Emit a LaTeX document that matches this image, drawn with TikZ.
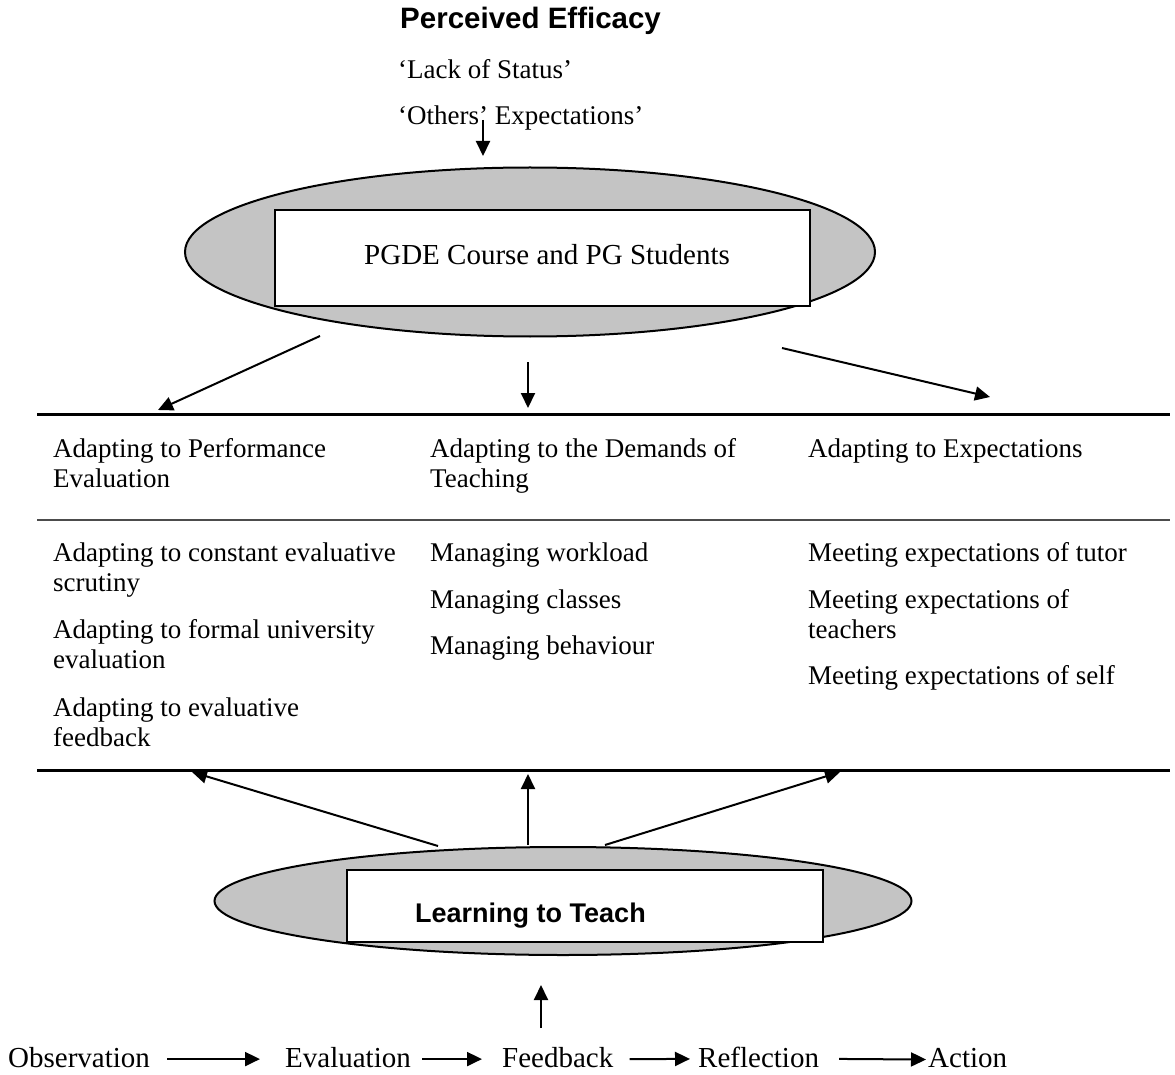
\documentclass[tikz,border=0pt]{standalone}
\usepackage{fontspec}
\setmainfont{Liberation Serif}
\newfontfamily\arialfont{Liberation Sans}
\usetikzlibrary{arrows.meta,shapes.geometric}
\definecolor{ellgray}{HTML}{C4C4C4}
\tikzset{
  txt/.style={inner sep=0pt, anchor=base west, align=left, font=\fontsize{27}{30}\selectfont},
  bigtxt/.style={inner sep=0pt, anchor=base west, font=\fontsize{29}{32}\selectfont},
  boldsans/.style={inner sep=0pt, anchor=base west, font=\arialfont\bfseries\fontsize{29.5}{32}\selectfont},
  ellbox/.style={ellipse, draw=black, line width=2pt, fill=ellgray, inner sep=0pt},
  rectbox/.style={rectangle, draw=black, line width=2pt, fill=white, inner sep=0pt},
  arr/.style={line width=2pt, -{Triangle[length=15pt,width=14pt]}},
  rule/.style={line width=3pt},
  thinrule/.style={line width=1.5pt, black!70}
}
\begin{document}
\begin{tikzpicture}[x=1pt,y=-1pt]
\useasboundingbox (0,0) rectangle (1175,1075);
% top texts
\node[boldsans] (pe) at (400,29) {Perceived Efficacy};
\node[txt] (lack) at (398,79) {‘Lack of Status’};
\node[txt] (oth) at (398,125) {‘Others’ Expectations’};
\coordinate (topa) at (483,120);
\coordinate (topb) at (483,156);
\draw[arr] (topa) -- (topb);
% ellipse 1
\node[ellbox, minimum width=690pt, minimum height=169pt] (e1) at (530,252) {};
\node[rectbox, minimum width=535pt, minimum height=96pt] (r1) at (542.5,258) {};
\node[bigtxt] (pgde) at (364,265) {PGDE Course and PG Students};
% rules
\coordinate (l1a) at (37,414); \coordinate (l1b) at (1170,414);
\coordinate (l2a) at (37,520); \coordinate (l2b) at (1170,520);
\coordinate (l3a) at (37,770); \coordinate (l3b) at (1170,770);
\draw[rule] (l1a) -- (l1b);
\draw[thinrule] (l2a) -- (l2b);
\draw[rule] (l3a) -- (l3b);
% arrows from ellipse 1
\coordinate (a1e) at (158,410);
\coordinate (a2e) at (528,408);
\coordinate (a3e) at (990,397);
\draw[arr] ([shift={(-210,84)}]e1.center) -- (a1e);
\draw[arr] ([shift={(-2,110)}]e1.center) -- (a2e);
\draw[arr] ([shift={(252,96)}]e1.center) -- (a3e);
% headings
\node[txt] (h1) at (53,487) {Adapting to Performance\\Evaluation};
\node[txt] (h2) at (430,487) {Adapting to the Demands of\\Teaching};
\node[txt] (h3) at (808,457) {Adapting to Expectations};
% column 1
\node[txt] (c1a) at (53,591) {Adapting to constant evaluative\\scrutiny};
\node[txt] (c1b) at (53,668) {Adapting to formal university\\evaluation};
\node[txt] (c1c) at (53,746) {Adapting to evaluative\\feedback};
% column 2
\node[txt] (c2a) at (430,561) {Managing workload};
\node[txt] (c2b) at (430,608) {Managing classes};
\node[txt] (c2c) at (430,654) {Managing behaviour};
% column 3
\node[txt] (c3a) at (808,561) {Meeting expectations of tutor};
\node[txt] (c3b) at (808,638) {Meeting expectations of\\teachers};
\node[txt] (c3c) at (808,684) {Meeting expectations of self};
% ellipse 2
\node[ellbox, minimum width=697pt, minimum height=108pt] (e2) at (563,901) {};
\node[rectbox, minimum width=476pt, minimum height=72pt] (r2) at (585,906) {};
\node[boldsans, font=\arialfont\bfseries\fontsize{27}{30}\selectfont] (ltt) at (415,922) {Learning to Teach};
% arrows up to rule 3
\coordinate (b1e) at (192,772);
\coordinate (b2e) at (528,774);
\coordinate (b3e) at (840,772);
\draw[arr] ([shift={(-125,-55)}]e2.center) -- (b1e);
\draw[arr] ([shift={(-35,-56)}]e2.center) -- (b2e);
\draw[arr] ([shift={(42,-56)}]e2.center) -- (b3e);
% bottom row
\node[bigtxt] (obs) at (8,1067) {Observation};
\node[bigtxt] (eva) at (285,1067) {Evaluation};
\node[bigtxt] (fee) at (502,1067) {Feedback};
\node[bigtxt] (ref) at (698,1067) {Reflection};
\node[bigtxt] (act) at (928,1067) {Action};
\draw[arr] ([xshift=17pt,yshift=-2pt]obs.east) -- ([xshift=-25pt,yshift=-2pt]eva.west);
\draw[arr] ([xshift=11pt,yshift=-2pt]eva.east) -- ([xshift=-20pt,yshift=-2pt]fee.west);
\draw[arr] ([xshift=16pt,yshift=-2pt]fee.east) -- ([xshift=-8pt,yshift=-2pt]ref.west);
\draw[arr] ([xshift=20pt,yshift=-2pt]ref.east) -- ([xshift=-2pt,yshift=-2pt]act.west);
\coordinate (fup) at (541,1028);
\coordinate (fdown) at (541,985);
\draw[arr] (fup) -- (fdown);
\end{tikzpicture}
\end{document}
